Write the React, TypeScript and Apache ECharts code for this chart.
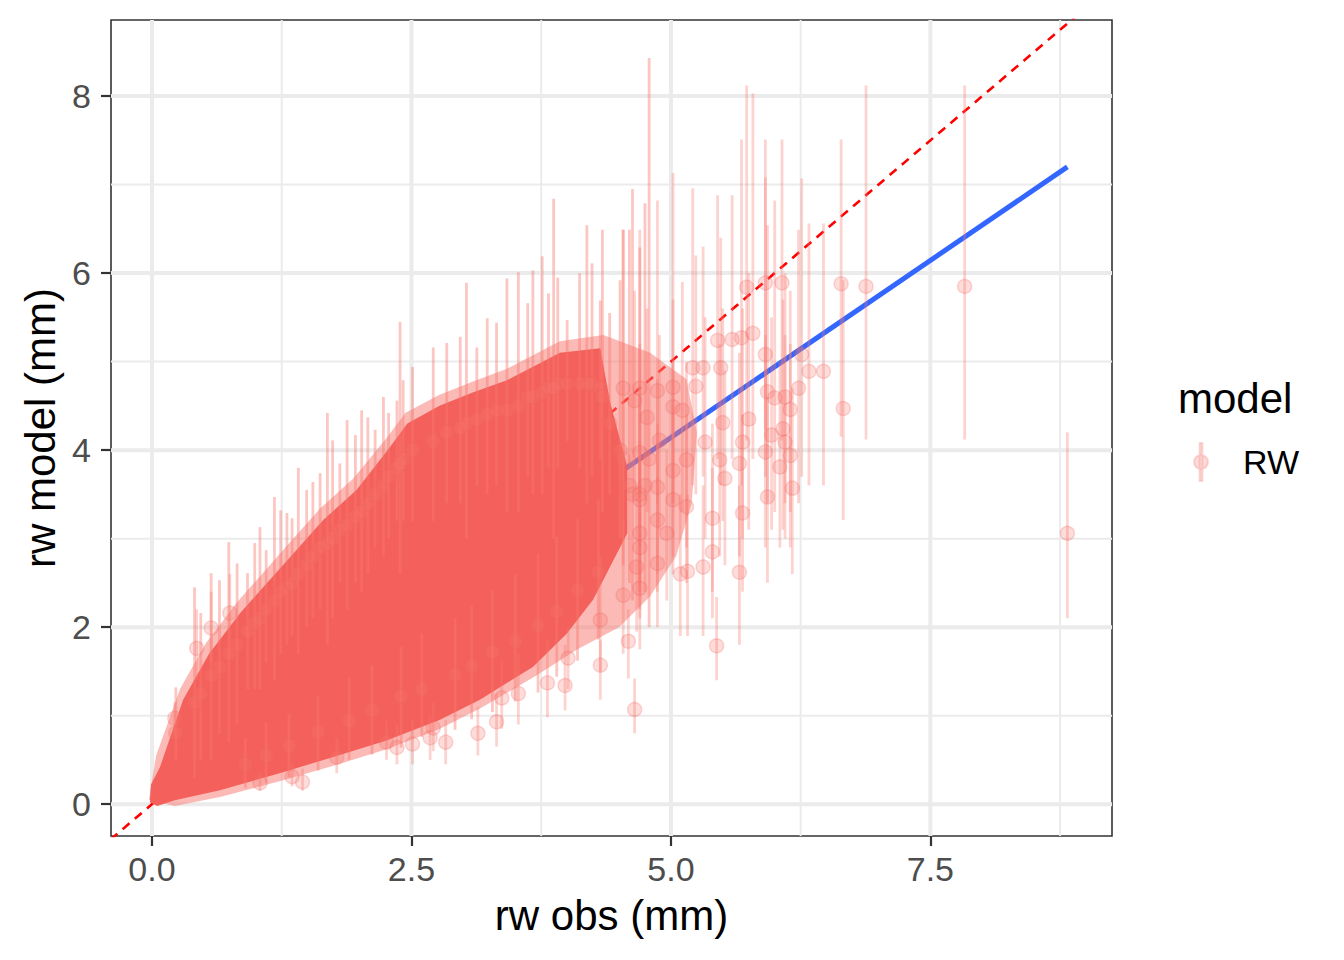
import React, { useEffect, useRef } from "react";
import * as echarts from "echarts";

// ---- axes ----
const xRange = [-0.395, 9.25];
const yRange = [-0.36, 8.86];
const xMajor = [0, 2.5, 5, 7.5];
const xMinor = [1.25, 3.75, 6.25, 8.75];
const yMajor = [0, 2, 4, 6, 8];
const yMinor = [1, 3, 5, 7];

// ---- reference lines ----
const identityLine = [-0.4, 8.9];
const fitLine = [
  [0, 0.14],
  [8.82, 7.2],
];

// ---- fully overplotted region of the cloud ----
const cloudCore = [
  [-0.02, 0.02], [-0.01, 0.22], [0.077, 0.42], [0.3, 1.18], [0.55, 1.7], [0.85, 2.16],
  [1.33, 2.79], [1.65, 3.21], [1.97, 3.55], [2.29, 4.03], [2.46, 4.3], [2.77, 4.5],
  [3.09, 4.65], [3.42, 4.79], [3.93, 5.1], [4.32, 5.15], [4.41, 4.56], [4.58, 3.81],
  [4.58, 3.06], [4.25, 2.31], [4.0, 1.93], [3.67, 1.55], [3.16, 1.18], [2.77, 0.95],
  [2.26, 0.72], [1.74, 0.53], [1.23, 0.35], [0.655, 0.158], [0.22, 0.045], [0.05, -0.02],
];
// partly overplotted margin around it
const cloudHalo = [
  [-0.03, 0.05], [0.04, 0.55], [0.27, 1.3], [0.52, 1.82], [0.82, 2.28], [1.3, 2.92],
  [1.62, 3.34], [1.94, 3.68], [2.27, 4.15], [2.44, 4.42], [2.76, 4.62], [3.08, 4.77],
  [3.42, 4.92], [3.93, 5.23], [4.35, 5.3], [4.8, 5.1], [5.15, 4.8], [5.25, 4.2],
  [5.2, 3.4], [5.05, 2.8], [4.8, 2.35], [4.5, 2.0], [4.1, 1.75], [3.7, 1.45],
  [3.16, 1.08], [2.77, 0.85], [2.26, 0.62], [1.74, 0.43], [1.23, 0.26], [0.655, 0.08],
  [0.22, -0.02],
];

// ---- individual observations: [obs, model, lower, upper] ----
const outliers = [
  [5.73, 5.84, 4.11, 8.12], [5.91, 5.89, 4.23, 7.51], [6.07, 5.89, 4.11, 7.51],
  [6.64, 5.88, 4.15, 7.51], [6.88, 5.85, 4.12, 8.12], [7.83, 5.85, 4.12, 8.12],
  [8.82, 3.06, 2.1, 4.2], [6.66, 4.47, 3.21, 5.92], [5.45, 5.24, 3.9, 6.88],
  [5.59, 5.25, 3.9, 6.88], [5.68, 5.27, 3.6, 7.51], [5.79, 5.32, 3.9, 8.03],
  [5.91, 5.08, 3.7, 7.08], [6.26, 5.08, 3.7, 7.07], [5.21, 4.93, 3.6, 6.96],
  [5.31, 4.93, 3.7, 6.3], [5.48, 4.93, 3.6, 6.4], [6.33, 4.89, 3.6, 6.56],
  [6.47, 4.89, 3.6, 6.56], [5.24, 4.72, 3.5, 6.2], [6.23, 4.7, 3.4, 6.49],
  [5.93, 4.66, 3.4, 6.54], [6.0, 4.59, 3.3, 6.82], [6.1, 4.6, 3.4, 6.0],
  [6.15, 4.46, 3.3, 5.8], [4.54, 4.7, 3.5, 6.49], [4.7, 4.7, 3.5, 6.49],
  [4.87, 4.67, 3.4, 6.82], [5.02, 4.71, 3.4, 7.13], [5.5, 4.31, 3.2, 5.6],
  [5.75, 4.35, 3.1, 6.0], [5.33, 4.09, 3.0, 5.5], [5.69, 4.09, 3.0, 5.6],
  [5.97, 4.17, 3.1, 5.5], [6.08, 4.24, 3.1, 5.7], [6.1, 4.09, 3.0, 5.3],
  [5.91, 3.98, 2.9, 5.3], [6.15, 3.94, 2.9, 5.2], [5.47, 3.89, 2.8, 5.2],
  [5.66, 3.85, 2.8, 5.1], [6.05, 3.81, 2.9, 5.0], [5.52, 3.68, 2.7, 4.9],
  [6.17, 3.57, 2.6, 4.7], [5.93, 3.47, 2.5, 4.6], [5.69, 3.29, 2.4, 4.4],
  [5.4, 3.23, 2.4, 4.3], [5.4, 2.85, 2.1, 3.8], [5.31, 2.68, 1.9, 3.6],
  [5.66, 2.62, 1.8, 3.6], [5.16, 2.63, 1.9, 3.5], [5.09, 2.6, 1.9, 3.5],
  [4.7, 2.44, 1.75, 3.3], [4.54, 2.36, 1.7, 3.2], [4.59, 1.84, 1.42, 2.2],
  [5.44, 1.79, 1.4, 2.34], [4.32, 1.57, 1.18, 1.85], [4.01, 1.65, 1.3, 2.0],
  [3.98, 1.34, 1.06, 1.8], [4.65, 1.07, 0.8, 1.42],
  [4.65, 4.56, 3.5, 5.8], [4.77, 4.37, 3.3, 5.6], [5.02, 4.49, 3.4, 5.7],
  [5.11, 4.45, 3.3, 5.9], [4.89, 4.11, 3.1, 5.3], [4.7, 3.97, 2.9, 5.2],
  [5.15, 3.89, 2.9, 5.0], [5.02, 3.77, 2.8, 5.0], [4.87, 3.58, 2.6, 4.8],
  [4.7, 3.44, 2.5, 4.6], [5.02, 3.44, 2.6, 4.5], [5.15, 3.36, 2.5, 4.4],
  [4.87, 3.21, 2.4, 4.3], [4.7, 3.06, 2.2, 4.1], [4.96, 3.06, 2.3, 4.0],
  [4.7, 2.9, 2.1, 3.9], [4.87, 2.72, 2.0, 3.7], [4.67, 2.68, 1.95, 3.6],
  [4.32, 2.08, 1.5, 2.8], [3.81, 1.37, 0.98, 1.85], [3.53, 1.25, 0.9, 1.7],
  [3.37, 1.2, 0.85, 1.62],
  [0.57, 1.99, 1.6, 2.4], [0.43, 1.76, 1.4, 2.2], [0.75, 2.16, 1.7, 2.6],
  [0.22, 0.97, 0.8, 1.15], [1.45, 0.25, 0.15, 0.4], [1.35, 0.31, 0.2, 0.45],
  [1.04, 0.24, 0.15, 0.35], [2.51, 0.68, 0.45, 0.95], [2.68, 0.75, 0.5, 1.0],
  [2.83, 0.7, 0.45, 0.95], [2.71, 0.86, 0.6, 1.15], [2.26, 0.7, 0.5, 0.95],
  [2.36, 0.64, 0.45, 0.9], [3.14, 0.8, 0.55, 1.1], [1.78, 0.53, 0.35, 0.75],
  [3.32, 0.93, 0.65, 1.25],
];

// observations inside the cloud whose intervals stick out of it
const fringeBars = [
  [0.23, 0.8, 0.5, 1.32], [0.41, 1.15, 0.3, 2.45], [0.47, 1.25, 0.5, 2.16],
  [0.57, 1.45, 0.5, 2.61], [0.65, 1.55, 0.8, 2.53], [0.74, 1.7, 0.7, 2.96],
  [0.82, 1.8, 0.9, 2.72], [0.92, 1.95, 1.3, 2.61], [0.99, 2.05, 1.3, 2.95],
  [1.04, 2.1, 1.3, 3.13], [1.1, 2.2, 1.6, 2.87], [1.18, 2.3, 1.4, 3.47],
  [1.24, 2.4, 1.7, 3.32], [1.3, 2.45, 1.8, 3.29], [1.35, 2.5, 1.9, 3.23],
  [1.41, 2.6, 1.7, 3.8], [1.49, 2.7, 2.0, 3.55], [1.55, 2.8, 2.1, 3.64],
  [1.62, 2.9, 2.2, 3.74], [1.69, 2.95, 1.8, 4.42], [1.74, 3.0, 2.1, 4.11],
  [1.81, 3.1, 2.5, 3.85], [1.88, 3.15, 2.2, 4.34], [1.96, 3.25, 2.5, 4.17],
  [2.02, 3.3, 2.4, 4.45], [2.08, 3.4, 2.6, 4.37], [2.15, 3.5, 2.9, 4.23],
  [2.23, 3.6, 2.8, 4.6], [2.28, 3.7, 3.0, 4.42], [2.36, 3.8, 3.2, 4.56],
  [2.42, 3.9, 3.2, 4.79], [2.39, 3.85, 2.6, 5.45], [2.51, 4.0, 3.2, 4.94],
  [2.71, 4.1, 3.2, 5.16], [2.84, 4.2, 3.4, 5.21], [2.97, 4.25, 3.4, 5.28],
  [3.03, 4.3, 3.0, 5.89], [3.13, 4.35, 3.6, 5.16], [3.23, 4.4, 3.5, 5.49],
  [3.32, 4.45, 3.6, 5.44], [3.42, 4.45, 3.3, 5.94], [3.53, 4.5, 3.3, 6.01],
  [3.62, 4.6, 3.7, 5.66], [3.67, 4.6, 3.5, 6.03], [3.76, 4.65, 3.5, 6.19],
  [3.82, 4.7, 3.8, 5.77], [3.87, 4.7, 3.0, 6.84], [3.91, 4.75, 3.8, 5.95],
  [4.0, 4.75, 4.1, 5.47], [4.12, 4.75, 3.8, 6.0], [4.19, 4.75, 3.4, 6.54],
  [4.24, 4.75, 3.7, 6.11], [4.32, 4.7, 3.9, 5.69], [4.34, 4.6, 3.3, 6.49],
  [4.41, 4.3, 3.5, 5.55], [4.51, 4.0, 3.0, 5.92], [4.54, 3.9, 2.7, 6.49],
  [4.6, 3.6, 2.5, 6.49], [4.63, 3.5, 2.3, 6.95], [4.7, 3.5, 2.4, 6.29],
  [4.75, 3.6, 2.4, 6.79], [4.79, 3.9, 2.0, 8.43],
  [0.9, 0.45, 0.18, 0.75], [1.1, 0.55, 0.24, 0.92], [1.32, 0.66, 0.3, 1.02],
  [1.6, 0.82, 0.38, 1.22], [1.9, 0.94, 0.5, 1.43], [2.12, 1.06, 0.56, 1.57],
  [2.4, 1.22, 0.64, 1.78], [2.6, 1.3, 0.76, 1.93], [2.92, 1.46, 0.84, 2.1],
  [3.08, 1.56, 0.96, 2.24], [3.28, 1.72, 1.04, 2.42], [3.5, 1.84, 1.16, 2.6],
  [3.72, 2.02, 1.26, 2.83], [3.9, 2.18, 1.44, 3.02], [4.1, 2.42, 1.62, 3.22],
  [4.3, 2.62, 1.86, 3.44],
];

const RED = "rgba(248,118,109,0.32)";
const RED_FRINGE = "rgba(248,118,109,0.42)";
const FONT = '"Liberation Sans", Arial, Helvetica, sans-serif';

export default function App() {
  const ref = useRef<HTMLDivElement>(null);

  useEffect(() => {
    document.body.style.margin = "0";
    const chart = echarts.init(ref.current!, null, { renderer: "svg" });

    const gridLineSeries = (vals: number[], vertical: boolean, width: number) => ({
      type: "custom",
      silent: true,
      z: 1,
      data: vals.map((v) => (vertical ? [v, yRange[0]] : [xRange[0], v])),
      renderItem: (params: any, api: any) => {
        const v = vertical ? api.value(0) : api.value(1);
        const p1 = vertical ? api.coord([v, yRange[0]]) : api.coord([xRange[0], v]);
        const p2 = vertical ? api.coord([v, yRange[1]]) : api.coord([xRange[1], v]);
        return {
          type: "line",
          shape: { x1: p1[0], y1: p1[1], x2: p2[0], y2: p2[1] },
          style: { stroke: "#EBEBEB", lineWidth: width },
        };
      },
    });

    const polygonSeries = (pts: number[][], fill: string, z: number) => ({
      type: "custom",
      silent: true,
      z,
      data: pts,
      renderItem: (params: any, api: any) => {
        if (params.dataIndex !== 0) return null;
        return {
          type: "polygon",
          shape: { points: pts.map((p) => api.coord(p)) },
          style: { fill },
        };
      },
    });

    const barSeries = (rows: number[][], stroke: string) => ({
      type: "custom",
      silent: true,
      z: 5,
      data: rows,
      encode: { x: 0, y: [1, 2, 3] },
      renderItem: (params: any, api: any) => {
        const x = api.value(0);
        const a = api.coord([x, api.value(2)]);
        const b = api.coord([x, api.value(3)]);
        return {
          type: "line",
          shape: { x1: a[0], y1: a[1], x2: b[0], y2: b[1] },
          style: { stroke, lineWidth: 2.8 },
        };
      },
    });

    const allPoints = [...fringeBars, ...outliers].map((r) => [r[0], r[1]]);

    chart.setOption({
      animation: false,
      textStyle: { fontFamily: FONT },
      grid: {
        left: 111,
        right: 232,
        top: 20,
        bottom: 124,
        show: true,
        borderColor: "#333333",
        borderWidth: 1.6,
        backgroundColor: "#FFFFFF",
        containLabel: false,
      },
      legend: {
        data: ["RW"],
        left: 1188,
        top: 437,
        itemWidth: 14,
        itemHeight: 38,
        icon: "path://M5.6,0L8.4,0L8.4,38L5.6,38Z M0,19A7,7,0,1,1,14,19A7,7,0,1,1,0,19Z",
        textStyle: { fontSize: 34, color: "#000000", fontFamily: FONT, padding: [0, 0, 0, 30] },
        selectedMode: false,
      },
      xAxis: {
        type: "value",
        min: xRange[0],
        max: xRange[1],
        name: "rw obs (mm)",
        nameLocation: "middle",
        nameGap: 58,
        nameTextStyle: { fontSize: 42, color: "#000000", fontFamily: FONT },
        axisLine: { show: false, onZero: false },
        axisTick: {
          show: true,
          length: 10,
          customValues: xMajor,
          lineStyle: { color: "#333333", width: 2.2 },
        },
        axisLabel: {
          show: true,
          customValues: xMajor,
          margin: 16,
          fontSize: 34,
          color: "#4D4D4D",
          fontFamily: FONT,
          formatter: (v: number) => v.toFixed(1),
        },
        splitLine: { show: false },
      },
      yAxis: {
        type: "value",
        min: yRange[0],
        max: yRange[1],
        name: "rw model (mm)",
        nameLocation: "middle",
        nameGap: 41,
        nameRotate: 90,
        nameTextStyle: { fontSize: 42, color: "#000000", fontFamily: FONT },
        axisLine: { show: false, onZero: false },
        axisTick: {
          show: true,
          length: 10,
          customValues: yMajor,
          lineStyle: { color: "#333333", width: 2.2 },
        },
        axisLabel: {
          show: true,
          customValues: yMajor,
          margin: 20,
          fontSize: 34,
          color: "#4D4D4D",
          fontFamily: FONT,
          formatter: (v: number) => String(Math.round(v)),
        },
        splitLine: { show: false },
      },
      graphic: [
        {
          type: "text",
          x: 1178,
          y: 398,
          style: {
            text: "model",
            fontSize: 42,
            fontFamily: FONT,
            fill: "#000000",
            verticalAlign: "middle",
          },
        },
      ],
      series: [
        gridLineSeries(xMinor, true, 2),
        gridLineSeries(yMinor, false, 2),
        gridLineSeries(xMajor, true, 4),
        gridLineSeries(yMajor, false, 4),
        {
          type: "line",
          silent: true,
          z: 2,
          data: identityLine.map((v) => [v, v]),
          symbol: "none",
          clip: true,
          lineStyle: { color: "#FF0000", width: 2.6, type: [9, 7] },
        },
        {
          type: "line",
          silent: true,
          z: 2,
          data: fitLine,
          symbol: "none",
          clip: true,
          lineStyle: { color: "#3366FF", width: 5 },
        },
        polygonSeries(cloudHalo, "rgba(248,118,109,0.5)", 3),
        polygonSeries(cloudCore, "#F4615C", 4),
        barSeries(fringeBars, RED_FRINGE),
        barSeries(outliers, RED),
        {
          name: "RW",
          type: "scatter",
          silent: true,
          z: 6,
          data: allPoints,
          symbolSize: 14,
          itemStyle: {
            color: RED,
            borderColor: "rgba(240,100,95,0.3)",
            borderWidth: 1.5,
          },
        },
      ],
    });

    return () => chart.dispose();
  }, []);

  return <div ref={ref} style={{ width: 1344, height: 960 }} />;
}
